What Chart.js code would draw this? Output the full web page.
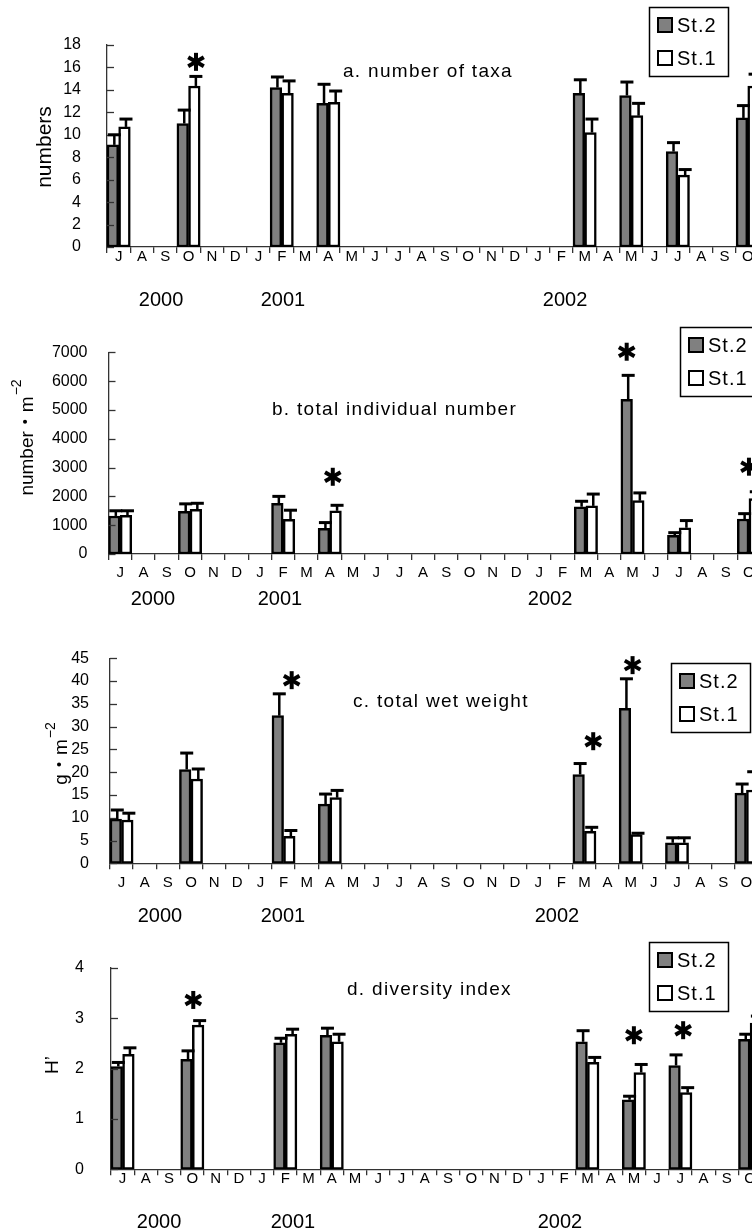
<!DOCTYPE html>
<html><head><meta charset="utf-8">
<script src="https://cdn.jsdelivr.net/npm/chart.js@4/dist/chart.umd.min.js"></script>
<style>
html,body{margin:0;padding:0;background:#fff;overflow:hidden;}
#wrap{position:relative;width:752px;height:1230px;overflow:hidden;background:#fff;}
canvas{position:absolute;left:0;top:0;}
</style></head><body>
<div id="wrap">
<canvas id="ca" width="780" height="1230"></canvas>
<canvas id="cb" width="780" height="1230"></canvas>
<canvas id="cc" width="780" height="1230"></canvas>
<canvas id="cd" width="780" height="1230"></canvas>
</div>
<script>
// ---- data ----
const months = ['J','A','S','O','N','D','J','F','M','A','M','J','J','A','S','O','N','D','J','F','M','A','M','J','J','A','S','O'];
const sampledMonthIndex = [0, 3, 7, 9, 20, 22, 24, 27]; // Jul00, Oct00, Feb01, Apr01, Mar02, May02, Jul02, Oct02
const seriesNames = ['St.2', 'St.1'];
const yearLabels = ['2000', '2001', '2002'];

// a. number of taxa
const taxaSt2    = [9.1, 11.0, 14.2, 12.8, 13.7, 13.5, 8.5, 11.5];
const taxaSt2Err = [0.9, 1.2, 0.95, 1.7, 1.2, 1.2, 0.8, 1.1];
const taxaSt1    = [10.7, 14.35, 13.7, 12.9, 10.2, 11.7, 6.4, 14.35];
const taxaSt1Err = [0.7, 0.85, 1.1, 1.0, 1.2, 1.1, 0.5, 1.05];
const taxaTicks  = [0, 18, 2];

// b. total individual number
const indivSt2    = [1320, 1480, 1760, 890, 1640, 5370, 650, 1215];
const indivSt2Err = [180, 260, 240, 200, 190, 830, 90, 185];
const indivSt1    = [1340, 1550, 1200, 1500, 1670, 1850, 910, 1920];
const indivSt1Err = [160, 210, 320, 190, 410, 270, 250, 240];
const indivTicks  = [0, 7000, 1000];

// c. total wet weight
const weightSt2    = [9.7, 20.6, 32.4, 13.0, 19.5, 34.0, 4.5, 15.4];
const weightSt2Err = [2.0, 3.6, 4.8, 2.2, 2.4, 6.5, 1.1, 2.0];
const weightSt1    = [9.5, 18.5, 5.9, 14.4, 7.0, 6.3, 4.5, 16.1];
const weightSt1Err = [1.5, 2.2, 1.3, 1.6, 0.9, 0.3, 1.1, 4.0];
const weightTicks  = [0, 45, 5];

// d. diversity index
const divSt2    = [2.04, 2.18, 2.51, 2.66, 2.53, 1.38, 2.06, 2.58];
const divSt2Err = [0.08, 0.17, 0.09, 0.14, 0.22, 0.07, 0.21, 0.10];
const divSt1    = [2.28, 2.86, 2.68, 2.53, 2.12, 1.92, 1.52, 2.90];
const divSt1Err = [0.13, 0.09, 0.10, 0.15, 0.10, 0.16, 0.10, 0.14];
const divTicks  = [0, 4, 1];

// significance marks: month index and the y value at which the mark sits
const taxaStarMonths = [3];          const taxaStarLevels = [16.5];
const indivStarMonths = [9, 22, 27]; const indivStarLevels = [2680, 7020, 3030];
const weightStarMonths = [7, 20, 22]; const weightStarLevels = [40.2, 26.8, 43.5];
const divStarMonths = [3, 22, 24];   const divStarLevels = [3.36, 2.66, 2.76];

function spread(vals) {
  const out = months.map(() => null);
  sampledMonthIndex.forEach((m, k) => { out[m] = vals[k]; });
  return out;
}

// ---- layout / style (page pixels) ----
const SANS = "'Liberation Sans', Arial, 'Noto Sans CJK JP', sans-serif";
const panels = [
  { id:'ca', s2:taxaSt2, e2:taxaSt2Err, s1:taxaSt1, e1:taxaSt1Err, ticks:taxaTicks,
    axisX:107, topY:45, zeroY:247, rightX:759.4, yPad:18, xPad:-4.8,
    title:'a. number of taxa', titleX:343, titleY:72,
    yTitle:{main:'numbers', sup:'', x:45, cy:147, size:21},
    legend:{x:649, y:7}, yearU:[2.32, 7.55, 19.66], yearY:300,
    starM:taxaStarMonths, starV:taxaStarLevels, starDx:[0.32] },
  { id:'cb', s2:indivSt2, e2:indivSt2Err, s1:indivSt1, e1:indivSt1Err, ticks:indivTicks,
    axisX:108.5, topY:352.3, zeroY:554, rightX:760.6, yPad:13, xPad:4.2,
    title:'b. total individual number', titleX:272, titleY:410,
    yTitle:{main:'number・m', sup:'−2', x:28, cy:437.5, size:19},
    legend:{x:680, y:327}, yearU:[1.91, 7.36, 18.96], yearY:599,
    starM:indivStarMonths, starV:indivStarLevels, starDx:[0.13, -0.25, 0] },
  { id:'cc', s2:weightSt2, e2:weightSt2Err, s1:weightSt1, e1:weightSt1Err, ticks:weightTicks,
    axisX:110, topY:658.3, zeroY:863.3, rightX:758, yPad:13, xPad:4.9,
    title:'c. total wet weight', titleX:353, titleY:702,
    yTitle:{main:'g・m', sup:'−2', x:62, cy:753.5, size:19},
    legend:{x:671, y:663}, yearU:[2.16, 7.47, 19.31], yearY:916,
    starM:weightStarMonths, starV:weightStarLevels, starDx:[0.35, 0.38, 0.08] },
  { id:'cd', s2:divSt2, e2:divSt2Err, s1:divSt1, e1:divSt1Err, ticks:divTicks,
    axisX:111, topY:967.7, zeroY:1169.3, rightX:761.7, yPad:19, xPad:-5.1,
    title:'d. diversity index', titleX:347, titleY:990,
    yTitle:{main:'H’', sup:'', x:53, cy:1065, size:19},
    legend:{x:649, y:942}, yearU:[2.07, 7.83, 19.32], yearY:1222,
    starM:divStarMonths, starV:divStarLevels, starDx:[0.04, 0, 0.12] }
];

const AXIS = '#333';
const GREY = '#808080';
const XH = 40;
const CW = 780, CH = 1230;

function drawStar(ctx, x, y) {
  ctx.save();
  ctx.strokeStyle = '#000';
  ctx.lineWidth = 4;
  const r = 9;
  [90, 30, 150].forEach(a => {
    const t = a * Math.PI / 180;
    ctx.beginPath();
    ctx.moveTo(x - r * Math.cos(t), y - r * Math.sin(t));
    ctx.lineTo(x + r * Math.cos(t), y + r * Math.sin(t));
    ctx.stroke();
  });
  ctx.restore();
}

function setSpacing(ctx, v) { try { ctx.letterSpacing = v; } catch (e) {} }

function makePlugin(p) {
  return {
    id: 'extras_' + p.id,
    afterDraw(chart) {
      const ctx = chart.ctx;
      const xs = chart.scales.x, ys = chart.scales.y;
      const ca = chart.chartArea;
      ctx.save();
      // inward y ticks
      ctx.strokeStyle = AXIS; ctx.lineWidth = 1.3;
      ys.ticks.forEach(t => {
        const py = Math.round(ys.getPixelForValue(t.value)) + 0.5;
        ctx.beginPath(); ctx.moveTo(ca.left, py); ctx.lineTo(ca.left + 7, py); ctx.stroke();
      });
      // error bars
      ctx.strokeStyle = '#000';
      [[0, spread(p.e2)], [1, spread(p.e1)]].forEach(([di, errs]) => {
        const meta = chart.getDatasetMeta(di);
        const vals = chart.data.datasets[di].data;
        meta.data.forEach((el, k) => {
          if (vals[k] == null || errs[k] == null) return;
          const x = el.x + 1.5;
          const yE = ys.getPixelForValue(vals[k] + errs[k]);
          ctx.lineWidth = 2.5;
          ctx.beginPath(); ctx.moveTo(x, el.y); ctx.lineTo(x, yE); ctx.stroke();
          ctx.lineWidth = 3;
          ctx.beginPath(); ctx.moveTo(x - 6.5, yE); ctx.lineTo(x + 6.5, yE); ctx.stroke();
        });
      });
      // significance stars
      const cw = (xs.right - xs.left) / months.length;
      p.starM.forEach((m, k) => {
        const x = xs.getPixelForValue(m) + p.starDx[k] * cw;
        const y = ys.getPixelForValue(p.starV[k]);
        drawStar(ctx, x, y);
      });
      // panel title
      ctx.fillStyle = '#000';
      ctx.font = '19px ' + SANS;
      setSpacing(ctx, '1.3px');
      ctx.textAlign = 'left'; ctx.textBaseline = 'middle';
      ctx.fillText(p.title, p.titleX, p.titleY);
      setSpacing(ctx, '0px');
      // year labels
      ctx.font = '20px ' + SANS;
      ctx.textAlign = 'center';
      yearLabels.forEach((yl, k) => {
        ctx.fillText(yl, xs.left + p.yearU[k] * cw, p.yearY);
      });
      // y axis title (rotated)
      const yt = p.yTitle;
      ctx.font = yt.size + 'px ' + SANS;
      const mw = ctx.measureText(yt.main).width;
      ctx.font = '14px ' + SANS;
      const sw = yt.sup ? ctx.measureText(yt.sup).width + 1 : 0;
      const total = mw + sw;
      ctx.save();
      ctx.translate(yt.x, yt.cy + total / 2);
      ctx.rotate(-Math.PI / 2);
      ctx.textAlign = 'left'; ctx.textBaseline = 'middle';
      ctx.font = yt.size + 'px ' + SANS;
      ctx.fillText(yt.main, 0, 0);
      if (yt.sup) {
        ctx.font = '14px ' + SANS;
        ctx.fillText(yt.sup, mw + 1, -11);
      }
      ctx.restore();
      // legend box
      const L = p.legend;
      ctx.lineWidth = 1.5; ctx.strokeStyle = '#000';
      ctx.fillStyle = '#fff';
      ctx.fillRect(L.x, L.y, 79, 69);
      ctx.strokeRect(L.x + 0.5, L.y + 0.5, 79, 69);
      const rows = [L.y + 18, L.y + 51];
      seriesNames.forEach((nm, k) => {
        ctx.fillStyle = k === 0 ? GREY : '#fff';
        ctx.lineWidth = 2;
        ctx.fillRect(L.x + 9, rows[k] - 7, 14, 14);
        ctx.strokeRect(L.x + 9, rows[k] - 7, 14, 14);
        ctx.fillStyle = '#000';
        ctx.font = '20px ' + SANS;
        setSpacing(ctx, '1px');
        ctx.textAlign = 'left'; ctx.textBaseline = 'middle';
        ctx.fillText(nm, L.x + 28, rows[k] + 1);
        setSpacing(ctx, '0px');
      });
      ctx.restore();
    }
  };
}

panels.forEach(p => {
  const [ymin, ymax, ystep] = p.ticks;
  new Chart(document.getElementById(p.id), {
    type: 'bar',
    data: {
      labels: months,
      datasets: [
        { label: seriesNames[0], data: spread(p.s2), backgroundColor: GREY, borderColor: '#000',
          borderWidth: 2.5, borderSkipped: false, barPercentage: 1, categoryPercentage: 1 },
        { label: seriesNames[1], data: spread(p.s1), backgroundColor: '#fff', borderColor: '#000',
          borderWidth: 2.5, borderSkipped: false, barPercentage: 1, categoryPercentage: 1 }
      ]
    },
    options: {
      responsive: false, animation: false, devicePixelRatio: 1,
      events: [],
      layout: { padding: { left: 0, top: p.topY, right: CW - p.rightX, bottom: CH - p.zeroY - XH } },
      plugins: { legend: { display: false }, tooltip: { enabled: false }, title: { display: false } },
      scales: {
        x: {
          offset: true,
          grid: { display: true, drawOnChartArea: false, drawTicks: true, tickLength: 6, color: AXIS, lineWidth: 1.3, offset: true },
          border: { display: true, color: AXIS, width: 1.3 },
          ticks: { color: '#000', font: { family: SANS, size: 15 }, padding: p.xPad, maxRotation: 0, autoSkip: false },
          afterFit: s => { s.height = XH; }
        },
        y: {
          min: ymin, max: ymax,
          ticks: { stepSize: ystep, color: '#000', font: { family: SANS, size: 16 }, padding: p.yPad,
                   callback: v => String(v) },
          grid: { display: false },
          border: { display: true, color: AXIS, width: 1.3 },
          afterFit: s => { s.width = p.axisX; }
        }
      }
    },
    plugins: [makePlugin(p)]
  });
});
</script>
</body></html>
